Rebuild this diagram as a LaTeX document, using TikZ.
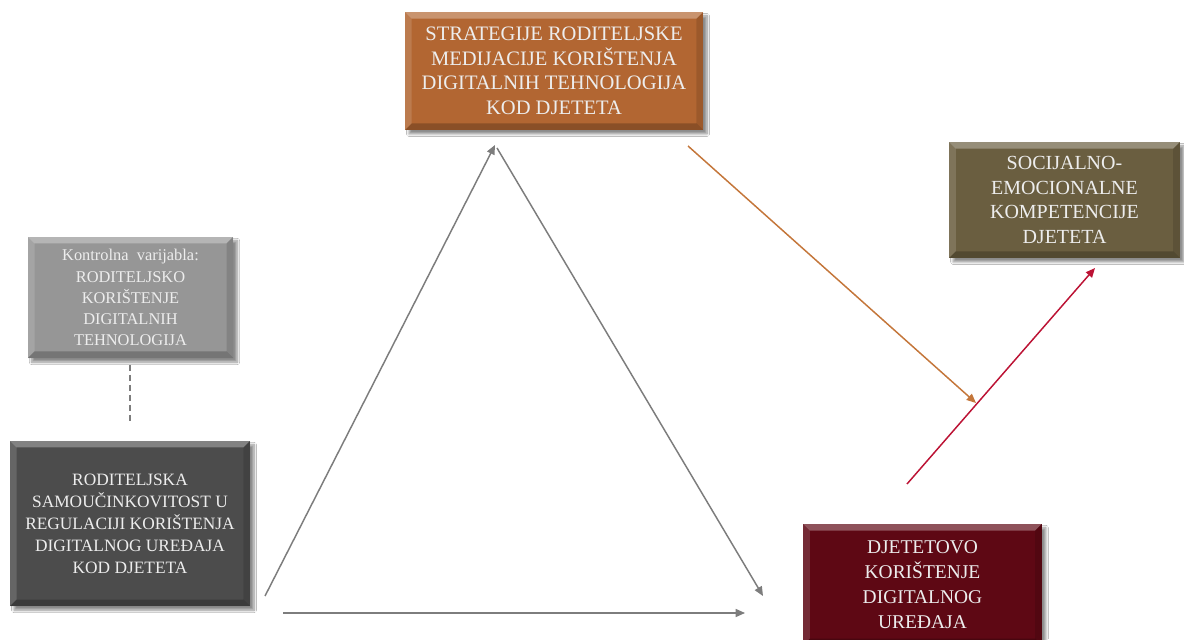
\documentclass[tikz,border=0pt]{standalone}
\usepackage{fontspec}
\setmainfont{Liberation Serif}
\usetikzlibrary{arrows.meta,shadows.blur}
\definecolor{orangebox}{RGB}{178,102,50}
\definecolor{olivebox}{RGB}{106,94,64}
\definecolor{ctrlbox}{RGB}{150,150,150}
\definecolor{darkbox}{RGB}{76,76,76}
\definecolor{redbox}{RGB}{94,8,20}
\definecolor{arrgray}{RGB}{125,125,125}
\definecolor{arrorange}{RGB}{196,118,58}
\definecolor{arrred}{RGB}{188,18,52}
\def\bv{5pt}
\tikzset{
  box/.style={draw=none, align=center, text=white!93!black, inner sep=0pt,
    blur shadow={shadow xshift=3pt, shadow yshift=-3pt, shadow blur steps=8, shadow opacity=45},
    path picture={
      \fill[white,opacity=.30] (path picture bounding box.north west) -- (path picture bounding box.north east)
        -- ([shift={(-\bv,-\bv)}]path picture bounding box.north east) -- ([shift={(\bv,-\bv)}]path picture bounding box.north west) -- cycle;
      \fill[white,opacity=.14] (path picture bounding box.north west) -- (path picture bounding box.south west)
        -- ([shift={(\bv,\bv)}]path picture bounding box.south west) -- ([shift={(\bv,-\bv)}]path picture bounding box.north west) -- cycle;
      \fill[black,opacity=.12] (path picture bounding box.north east) -- (path picture bounding box.south east)
        -- ([shift={(-\bv,\bv)}]path picture bounding box.south east) -- ([shift={(-\bv,-\bv)}]path picture bounding box.north east) -- cycle;
      \fill[black,opacity=.22] (path picture bounding box.south west) -- (path picture bounding box.south east)
        -- ([shift={(-\bv,\bv)}]path picture bounding box.south east) -- ([shift={(\bv,\bv)}]path picture bounding box.south west) -- cycle;
    }},
  conn/.style={line width=1.1pt, -{Triangle[length=7pt,width=6pt]}},
}
\begin{document}
\begin{tikzpicture}[x=0.75pt,y=0.75pt]
\useasboundingbox[fill=white] (0,0) rectangle (1184,639);
% boxes
\node[box, fill=orangebox, minimum width=223.5pt, minimum height=88.5pt,
  font=\fontsize{15.4}{18.4}\selectfont] (strat) at (554,568)
  {STRATEGIJE RODITELJSKE\\MEDIJACIJE KORIŠTENJA\\DIGITALNIH TEHNOLOGIJA\\KOD DJETETA};
\node[box, fill=olivebox, minimum width=173pt, minimum height=87pt,
  font=\fontsize{15}{18.4}\selectfont] (soc) at (1064.5,439)
  {SOCIJALNO-\\EMOCIONALNE\\KOMPETENCIJE\\DJETETA};
\node[box, fill=ctrlbox, minimum width=154pt, minimum height=91pt,
  font=\fontsize{12.3}{15.8}\selectfont] (ctrl) at (130.5,341.5)
  {Kontrolna\ \ varijabla:\\RODITELJSKO\\KORIŠTENJE\\DIGITALNIH\\TEHNOLOGIJA};
\node[box, fill=darkbox, minimum width=180pt, minimum height=124pt,
  font=\fontsize{13}{16.5}\selectfont] (self) at (130,115.5)
  {RODITELJSKA\\SAMOUČINKOVITOST U\\REGULACIJI KORIŠTENJA\\DIGITALNOG UREĐAJA\\KOD DJETETA};
\node[box, fill=redbox, minimum width=179pt, minimum height=91pt,
  font=\fontsize{14.6}{18.75}\selectfont] (child) at (922.5,54.5)
  {DJETETOVO\\KORIŠTENJE\\DIGITALNOG\\UREĐAJA};
% connector end points
\coordinate (a1s) at (265,43);  \coordinate (a1e) at (495,494);
\coordinate (a2s) at (497,491); \coordinate (a2e) at (763,43);
\coordinate (a3s) at (283,26);  \coordinate (a3e) at (745,26);
\coordinate (a4s) at (688,493); \coordinate (a4e) at (976,236);
\coordinate (a5s) at (907,155); \coordinate (a5e) at (1095,371);
\coordinate (d1) at (130,274);  \coordinate (d2) at (130,214);
% connectors
\draw[conn, draw=arrgray, fill=arrgray] (a1s) -- (a1e);
\draw[conn, draw=arrgray, fill=arrgray] (a2s) -- (a2e);
\draw[conn, draw=arrgray, fill=arrgray] (a3s) -- (a3e);
\draw[conn, draw=arrorange, fill=arrorange] (a4s) -- (a4e);
\draw[conn, draw=arrred, fill=arrred] (a5s) -- (a5e);
\draw[arrgray, line width=0.9pt, dash pattern=on 4.5pt off 3pt] (d1) -- (d2);
\end{tikzpicture}
\end{document}
